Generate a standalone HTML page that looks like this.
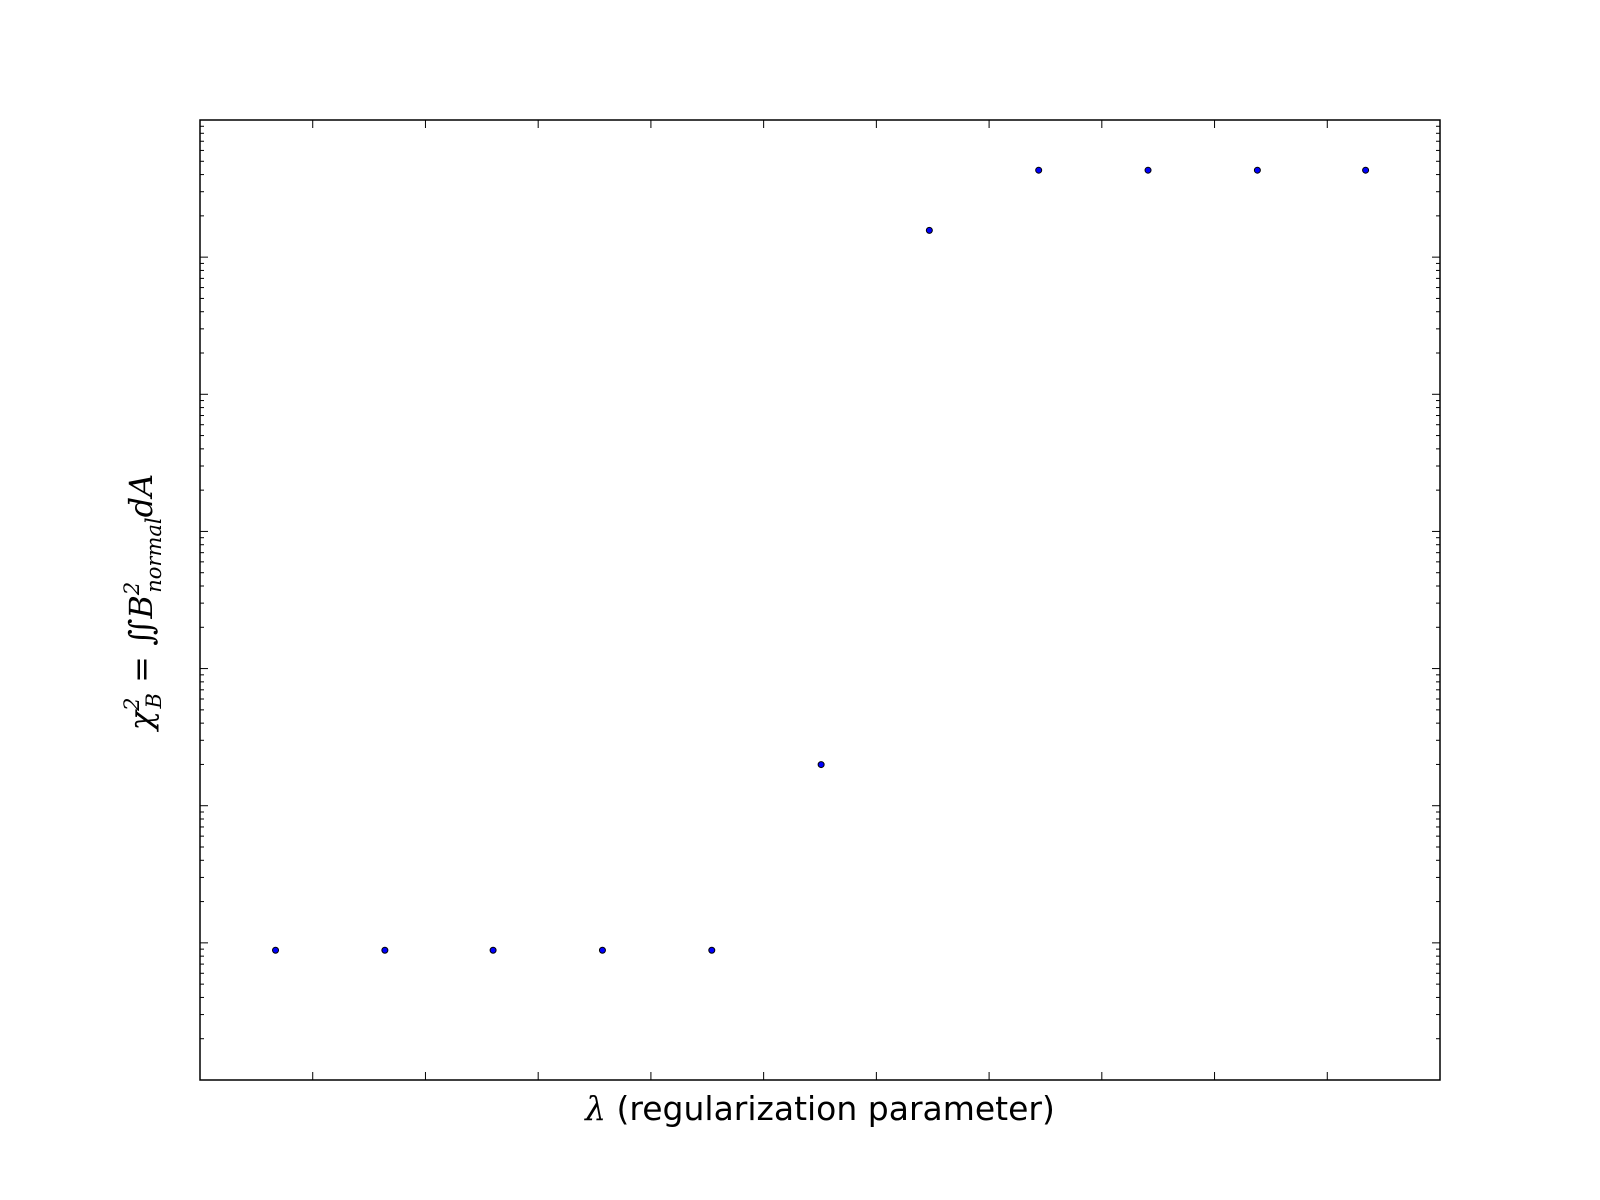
<!DOCTYPE html>
<html><head><meta charset="utf-8"><style>
html,body{margin:0;padding:0;background:#fff;width:1600px;height:1200px;overflow:hidden}
</style></head><body>
<svg id="chart" width="1600" height="1200" xmlns="http://www.w3.org/2000/svg">
<rect x="0" y="0" width="1600" height="1200" fill="#fff"/>
<g id="plot"></g>
<text x="820" y="1120" text-anchor="middle" font-family="'DejaVu Sans','Liberation Sans',sans-serif" font-size="33" fill="#000"><tspan font-family="'DejaVu Serif','Liberation Serif',serif" font-style="italic">λ</tspan> (regularization parameter)</text>
<g transform="translate(152,602) rotate(-90)">
<text x="0" y="0" text-anchor="middle" font-family="'DejaVu Serif','Liberation Serif',serif" font-style="italic" font-size="32" fill="#000">χ<tspan font-size="21" dy="-13">2</tspan><tspan font-size="21" dx="-11" dy="22">B</tspan><tspan dy="-9" font-style="normal"> = ∬</tspan>B<tspan font-size="21" dy="-13">2</tspan><tspan font-size="21" dx="-11" dy="22">normal</tspan><tspan dy="-9">dA</tspan></text>
</g>
</svg>
<script>
const xValues=[0.67,1.64,2.60,3.57,4.54,5.51,6.47,7.44,8.41,9.38,10.34];
const yValues=[0.946,0.946,0.946,0.946,0.946,2.30,6.195,6.634,6.634,6.634,6.634];
const xTicks=[1,2,3,4,5,6,7,8,9,10];
const yDecades=[0,1,2,3,4,5,6];
const X0=200,X1=1440,Y0=120,Y1=1080,XMIN=0,XMAX=11,YMIN=0,YMAX=7;
const NS='http://www.w3.org/2000/svg';
const g=document.getElementById('plot');
function sx(v){return X0+(v-XMIN)/(XMAX-XMIN)*(X1-X0);}
function sy(v){return Y1-(v-YMIN)/(YMAX-YMIN)*(Y1-Y0);}
function line(x1,y1,x2,y2,w,name){const l=document.createElementNS(NS,'line');
l.setAttribute('x1',x1);l.setAttribute('y1',y1);l.setAttribute('x2',x2);l.setAttribute('y2',y2);
l.setAttribute('stroke','#000');l.setAttribute('stroke-width',w);


g.appendChild(l);}
xTicks.forEach(t=>{const x=sx(t);line(x,Y1,x,Y1-8,1,'x-tick');line(x,Y0,x,Y0+8,1,'x-tick');});
yDecades.forEach(d=>{
 if(d>YMIN&&d<YMAX){const y=sy(d);line(X0,y,X0+8,y,1,'y-major-tick');line(X1,y,X1-8,y,1,'y-major-tick');}
 for(let m=2;m<=9;m++){const v=d+Math.log10(m);if(v>=YMAX)continue;const y=sy(v);
  line(X0,y,X0+4,y,1,'y-minor-tick');line(X1,y,X1-4,y,1,'y-minor-tick');}
});
const fr=document.createElementNS(NS,'rect');
fr.setAttribute('x',X0);fr.setAttribute('y',Y0);fr.setAttribute('width',X1-X0);fr.setAttribute('height',Y1-Y0);
fr.setAttribute('fill','none');fr.setAttribute('stroke','#000');fr.setAttribute('stroke-width',1.5);


g.appendChild(fr);
xValues.forEach((xv,i)=>{const c=document.createElementNS(NS,'circle');
c.setAttribute('cx',sx(xv));c.setAttribute('cy',sy(yValues[i]));c.setAttribute('r',3);
c.setAttribute('fill','#0000ff');c.setAttribute('stroke','#000');c.setAttribute('stroke-width',1);


g.appendChild(c);});
</script>
</body></html>
